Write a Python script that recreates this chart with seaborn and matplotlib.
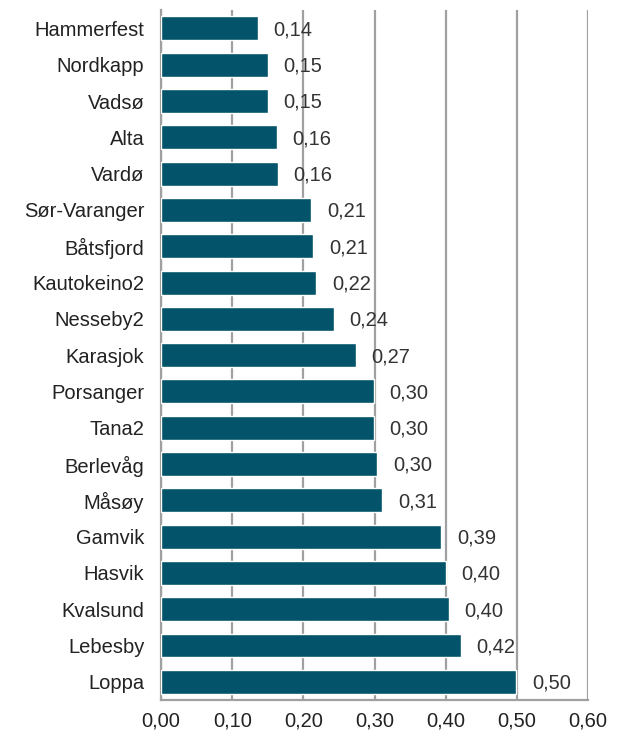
import numpy as np
import pandas as pd
import seaborn as sns
import matplotlib.pyplot as plt
from matplotlib.ticker import FixedLocator, FuncFormatter

# data
kommuner = ["Hammerfest", "Nordkapp", "Vadsø", "Alta", "Vardø", "Sør-Varanger",
            "Båtsfjord", "Kautokeino2", "Nesseby2", "Karasjok", "Porsanger",
            "Tana2", "Berlevåg", "Måsøy", "Gamvik", "Hasvik", "Kvalsund",
            "Lebesby", "Loppa"]
verdier = [0.136, 0.150, 0.150, 0.163, 0.164, 0.211, 0.214, 0.218, 0.243,
           0.274, 0.299, 0.299, 0.304, 0.311, 0.394, 0.400, 0.404, 0.421, 0.499]
x_ticks = [0.0, 0.1, 0.2, 0.3, 0.4, 0.5, 0.6]

df = pd.DataFrame({"kommune": kommuner, "verdi": verdier})

sns.set_style("white")
plt.rcParams["font.family"] = ["Liberation Sans", "DejaVu Sans"]

fig = plt.figure(figsize=(6.17, 7.36), dpi=100)
ax = fig.add_axes([0.261, 0.049, 0.692, 0.937])

sns.barplot(data=df, y="kommune", x="verdi", orient="h", color="#03536B",
            saturation=1, width=0.66, ax=ax, zorder=3)

# value labels with comma decimals
for i, v in enumerate(verdier):
    ax.text(v + 0.022, i + 0.04, f"{v:.2f}".replace(".", ","), va="center",
            ha="left", fontsize=14.5, color="#333333", zorder=4)

ax.set_xlim(0, 0.6)
ax.set_ylim(len(kommuner) - 0.5, -0.5)
ax.set_xticks(x_ticks)
ax.xaxis.set_major_formatter(FuncFormatter(lambda x, p: f"{x:.2f}".replace(".", ",")))
ax.grid(axis="x", color="#A0A0A0", linewidth=1.6, zorder=0)
ax.set_xlabel("")
ax.set_ylabel("")

# ticks between categories on the y axis
ax.yaxis.set_minor_locator(FixedLocator(np.arange(-0.5, len(kommuner), 1)))
ax.tick_params(axis="y", which="major", length=0, labelsize=14.5, pad=12)
ax.tick_params(axis="y", which="minor", length=5, color="#A0A0A0", width=1.3)
ax.tick_params(axis="x", length=5, color="#A0A0A0", width=1.3, labelsize=14.5, pad=3)
for lbl in ax.get_yticklabels() + ax.get_xticklabels():
    lbl.set_color("#222222")

for side in ["top", "right"]:
    ax.spines[side].set_visible(False)
for side in ["left", "bottom"]:
    ax.spines[side].set_color("#A0A0A0")
    ax.spines[side].set_linewidth(1.6)

fig.savefig("out.png", dpi=100)
